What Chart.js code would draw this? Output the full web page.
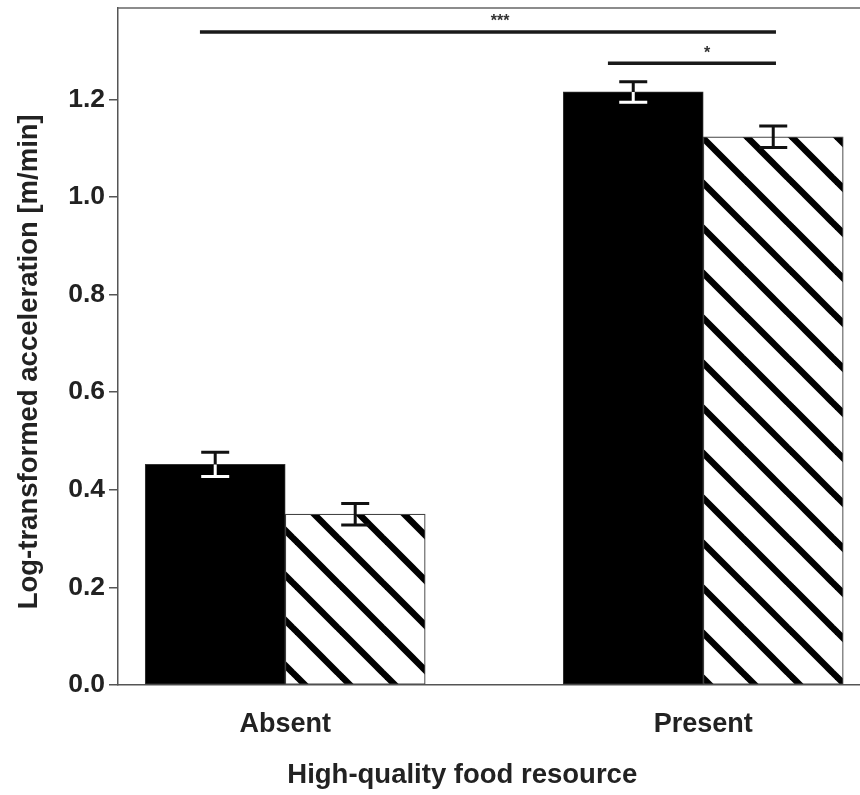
<!DOCTYPE html>
<html>
<head>
<meta charset="utf-8">
<script src="https://cdn.jsdelivr.net/npm/chart.js@4.4.0/dist/chart.umd.min.js"></script>
<style>
html, body { margin: 0; padding: 0; background: #fff; overflow: hidden; }
#wrap { width: 860px; height: 795px; position: relative; }
</style>
</head>
<body>
<div id="wrap"><canvas id="myChart"></canvas></div>
<script>
// values
var categories = ['Absent', 'Present']
var categoryPos = [1, 2]
var solidMeans = [0.452, 1.215]
var solidErrors = [0.025, 0.021]
var hatchedMeans = [0.350, 1.123]
var hatchedErrors = [0.022, 0.022]
var yTicks = [0, 0.2, 0.4, 0.6, 0.8, 1.0, 1.2]

// significance brackets
var sigFrom = [0.796, 1.772]
var sigTo = [2.174, 2.174]
var sigLevel = [1.338, 1.274]
var sigLabels = ['***', '*']
var sigLabelX = [1.514, 2.009]

var font = "'Liberation Sans', Arial, sans-serif"

function makeHatch(){
    var s = 45
    var c = document.createElement('canvas')
    c.width = s
    c.height = s
    var g = c.getContext('2d')
    g.fillStyle = '#fff'
    g.fillRect(0, 0, s, s)
    g.strokeStyle = '#000'
    g.lineWidth = 6.5
    for (var k = -1; k <= 1; k++) {
        g.beginPath()
        g.moveTo(k * s - 2, -2)
        g.lineTo(k * s + s + 2, s + 2)
        g.stroke()
    }
    var p = document.getElementById('myChart').getContext('2d').createPattern(c, 'repeat')
    if (p.setTransform) p.setTransform(new DOMMatrix().translate(25, 0))
    return p
}

function drawErr(ctx, x, yTop, yBot, cap, color){
    ctx.strokeStyle = color
    ctx.beginPath()
    ctx.moveTo(x, yTop)
    ctx.lineTo(x, yBot)
    ctx.moveTo(x - cap, yTop)
    ctx.lineTo(x + cap, yTop)
    ctx.moveTo(x - cap, yBot)
    ctx.lineTo(x + cap, yBot)
    ctx.stroke()
}

var annotate = {
    id: 'annotate',
    afterDatasetsDraw: function(chart){
        var ctx = chart.ctx
        var xs = chart.scales.x
        var ys = chart.scales.y
        var area = chart.chartArea
        ctx.save()

        // top frame line
        ctx.strokeStyle = '#666'
        ctx.lineWidth = 1.5
        ctx.beginPath()
        ctx.moveTo(area.left, area.top)
        ctx.lineTo(area.right, area.top)
        ctx.stroke()

        // error bars
        var sets = [[solidMeans, solidErrors], [hatchedMeans, hatchedErrors]]
        ctx.lineWidth = 3
        sets.forEach(function(set, di){
            var meta = chart.getDatasetMeta(di)
            meta.data.forEach(function(el, i){
                var yTop = ys.getPixelForValue(set[0][i] + set[1][i])
                var yBot = ys.getPixelForValue(set[0][i] - set[1][i])
                drawErr(ctx, el.x, yTop, yBot, 14, '#111')
                if (di === 0) {
                    ctx.save()
                    ctx.beginPath()
                    ctx.rect(el.x - el.width / 2, el.y, el.width, el.base - el.y)
                    ctx.clip()
                    drawErr(ctx, el.x, yTop, yBot, 14, '#fff')
                    ctx.restore()
                }
            })
        })

        // significance lines
        ctx.strokeStyle = '#1a1a1a'
        ctx.lineWidth = 3.5
        ctx.fillStyle = '#333'
        ctx.font = 'bold 16px ' + font
        ctx.textAlign = 'center'
        ctx.textBaseline = 'middle'
        for (var i = 0; i < sigLabels.length; i++) {
            var y = ys.getPixelForValue(sigLevel[i])
            ctx.beginPath()
            ctx.moveTo(xs.getPixelForValue(sigFrom[i]), y)
            ctx.lineTo(xs.getPixelForValue(sigTo[i]), y)
            ctx.stroke()
            ctx.fillText(sigLabels[i], xs.getPixelForValue(sigLabelX[i]), y - 10)
        }
        ctx.restore()
    }
}

function setChart(){
    var hatch = makeHatch()
    var el = document.getElementById('myChart').getContext('2d')
    var chart1 = new Chart(el, {
        type: 'bar',
        data: {
            datasets: [{
                data: categoryPos.map(function(x, i){ return {x: x, y: solidMeans[i]} }),
                backgroundColor: '#000',
                borderColor: '#333',
                borderWidth: 1,
                borderSkipped: false,
                barThickness: 140
            }, {
                data: categoryPos.map(function(x, i){ return {x: x, y: hatchedMeans[i]} }),
                backgroundColor: hatch,
                borderColor: '#444',
                borderWidth: 1.2,
                borderSkipped: false,
                barThickness: 140
            }]
        },
        options: {
            responsive: true,
            maintainAspectRatio: false,
            animation: false,
            layout: { padding: { top: 8, left: 0, right: 0, bottom: 0 } },
            plugins: {
                legend: { display: false },
                tooltip: { enabled: false }
            },
            scales: {
                x: {
                    type: 'linear',
                    offset: false,
                    min: 0.6,
                    max: 2.375,
                    grid: { display: false, drawTicks: false },
                    border: { display: true, color: '#555', width: 1.5 },
                    ticks: {
                        color: '#222',
                        padding: 23,
                        font: { family: font, size: 27, weight: 'bold' },
                        callback: function(v){ return categories[categoryPos.indexOf(v)] }
                    },
                    title: {
                        display: true,
                        text: 'High-quality food resource       ',
                        color: '#222',
                        font: { family: font, size: 27.5, weight: 'bold' },
                        padding: { top: 0, bottom: 3 }
                    },
                    afterBuildTicks: function(scale){
                        scale.ticks = categoryPos.map(function(v){ return {value: v} })
                    },
                    afterFit: function(scale){
                        scale.height = 110
                        scale.paddingLeft = 0
                        scale.paddingRight = 0
                    }
                },
                y: {
                    min: 0,
                    max: 1.387,
                    grid: { drawOnChartArea: false, drawTicks: true, tickLength: 9, color: '#555', lineWidth: 1.5 },
                    border: { display: true, color: '#555', width: 1.5 },
                    ticks: {
                        color: '#222',
                        padding: 4,
                        font: { family: font, size: 26.5, weight: 'bold' },
                        callback: function(v){ return v.toFixed(1) }
                    },
                    title: {
                        display: true,
                        text: 'Log-transformed acceleration [m/min]    ',
                        color: '#222',
                        font: { family: font, size: 27.5, weight: 'bold' },
                        padding: { top: 13, bottom: 0 }
                    },
                    afterBuildTicks: function(scale){
                        scale.ticks = yTicks.map(function(v){ return {value: v} })
                    },
                    afterFit: function(scale){
                        scale.width = 118
                        scale.paddingTop = 0
                        scale.paddingBottom = 0
                    }
                }
            }
        },
        plugins: [annotate]
    })
}

setChart()
</script>
</body>
</html>
